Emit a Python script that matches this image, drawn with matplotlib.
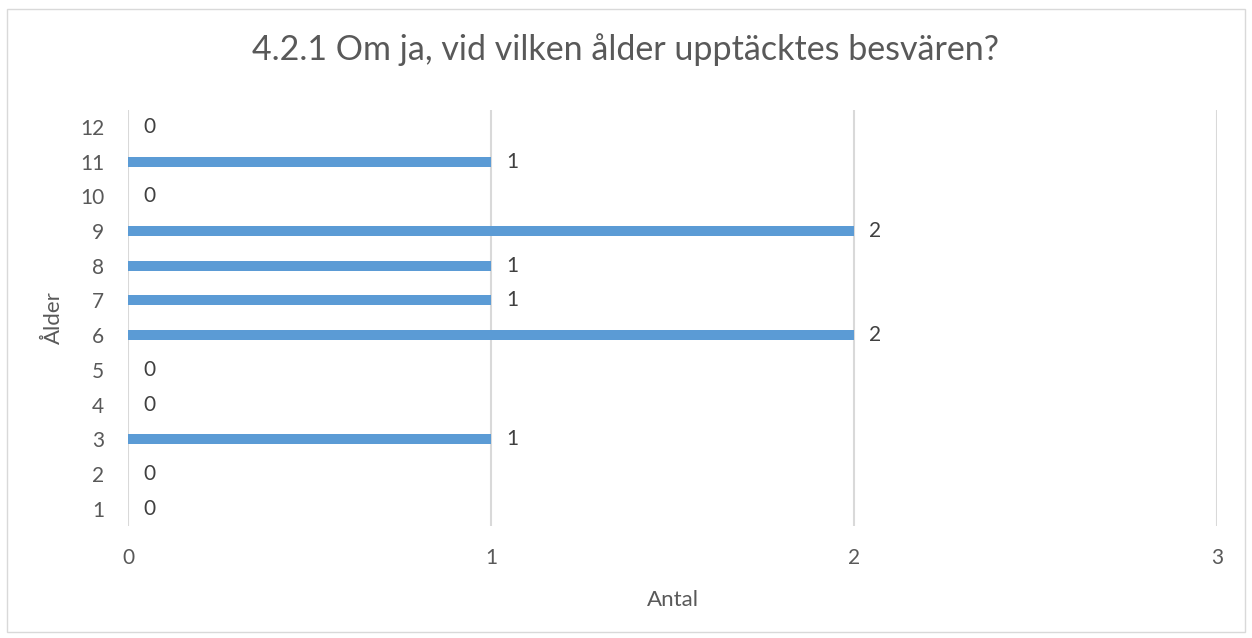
import matplotlib
matplotlib.use("Agg")
import matplotlib.pyplot as plt
from matplotlib.patches import Rectangle

ages = [1, 2, 3, 4, 5, 6, 7, 8, 9, 10, 11, 12]
counts = [0, 0, 1, 0, 0, 2, 1, 1, 2, 0, 1, 0]
x_ticks = [0, 1, 2, 3]

title = "4.2.1 Om ja, vid vilken ålder upptäcktes besvären?"
xlabel = "Antal"
ylabel = "Ålder"

text_color = "#595959"
bar_color = "#5B9BD5"
grid_color = "#D9D9D9"

plt.rcParams["font.family"] = ["Lato", "DejaVu Sans"]

fig = plt.figure(figsize=(12.52, 6.38), dpi=100)
ax = fig.add_axes([128 / 1252, 1 - 526 / 638, (1217 - 128) / 1252, (526 - 109.6) / 638])

ax.barh(ages, counts, height=0.29, color=bar_color, zorder=3)
for age, c in zip(ages, counts):
    ax.annotate(str(c), (c, age), xytext=(11, 0), textcoords="offset points",
                ha="left", va="center", fontsize=15, color="#404040")

ax.set_xlim(0, 3)
ax.set_ylim(0.5, 12.5)
ax.set_xticks(x_ticks)
ax.set_yticks(ages)
ax.tick_params(length=0, labelsize=15, labelcolor=text_color)
ax.tick_params(axis="y", pad=17)
ax.tick_params(axis="x", pad=16)
ax.grid(axis="x", color=grid_color, lw=1.5, zorder=0)
for s in ax.spines.values():
    s.set_visible(False)

ax.set_xlabel(xlabel, fontsize=16, color=text_color, labelpad=16)
ax.set_ylabel(ylabel, fontsize=16, color=text_color, labelpad=12)
fig.text(0.5, 1 - 50 / 638, title, ha="center", va="center", fontsize=24.5, color=text_color)

fig.patches.append(Rectangle((7 / 1252, 1 - 632 / 638), 1238 / 1252, 623 / 638,
                             transform=fig.transFigure, fill=False,
                             edgecolor="#D9D9D9", lw=1))

fig.savefig("out.png", dpi=100, facecolor="white")
